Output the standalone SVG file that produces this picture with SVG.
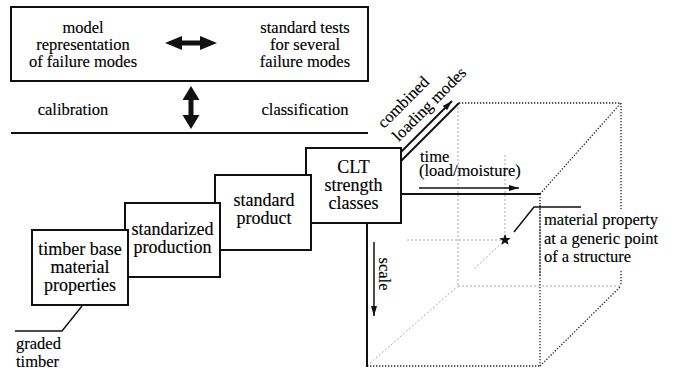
<svg xmlns="http://www.w3.org/2000/svg" width="687" height="372" viewBox="0 0 687 372" font-family="'Liberation Serif', 'DejaVu Serif', serif">
  <style>
    text { font-family: "Liberation Serif", "DejaVu Serif", serif; fill: #000; stroke: #000; stroke-width: 0.15; }
    .t16 { font-size: 16.5px; }
    .t18 { font-size: 18px; }
    .mid { text-anchor: middle; }
    .box { fill: #fff; stroke: #111; stroke-width: 2; }
    .solid { fill: none; stroke: #111; stroke-width: 2; }
    .thin { fill: none; stroke: #111; stroke-width: 1.5; }
    .dot { fill: none; stroke: #222; stroke-width: 1.3; stroke-dasharray: 1.3 1.7; }
    .faint { fill: none; stroke: #a8a8a8; stroke-width: 1; stroke-dasharray: 2 2; }
  </style>
  <defs>
    <marker id="head" markerUnits="userSpaceOnUse" markerWidth="10" markerHeight="6" refX="10" refY="3" orient="auto">
      <path d="M0,0 L10,3 L0,6 z" fill="#111"/>
    </marker>
  </defs>

  <rect width="687" height="372" fill="#fff"/>

  <!-- upper panel: failure modes and testing -->
  <g id="panel">
    <rect x="11" y="7" width="357" height="74" fill="none" stroke="#111" stroke-width="2"/>
    <line x1="11" y1="133" x2="368" y2="133" stroke="#111" stroke-width="2"/>
  </g>
  <g id="model">
    <text class="t16 mid" x="83" y="33">model</text>
    <text class="t16 mid" x="83" y="50">representation</text>
    <text class="t16 mid" x="83" y="67">of failure modes</text>
  </g>
  <g id="tests">
    <text class="t16 mid" x="305" y="33">standard tests</text>
    <text class="t16 mid" x="305" y="50">for several</text>
    <text class="t16 mid" x="305" y="67">failure modes</text>
  </g>
  <g id="calibration">
    <text class="t16 mid" x="73" y="115">calibration</text>
  </g>
  <g id="classification">
    <text class="t16 mid" x="305" y="115">classification</text>
  </g>

  <!-- staircase of product stages (back to front) -->
  <g id="clt">
    <rect class="box" x="306" y="148" width="95" height="75"/>
    <text class="t18 mid" x="353.5" y="173">CLT</text>
    <text class="t18 mid" x="353.5" y="191">strength</text>
    <text class="t18 mid" x="353.5" y="209">classes</text>
  </g>
  <g id="product">
    <rect class="box" x="215" y="175" width="96" height="75"/>
    <text class="t18 mid" x="264" y="206">standard</text>
    <text class="t18 mid" x="264" y="224">product</text>
  </g>
  <g id="production">
    <rect class="box" x="125" y="203" width="95" height="74"/>
    <text class="t18 mid" x="172.5" y="235">standarized</text>
    <text class="t18 mid" x="172.5" y="253">production</text>
  </g>
  <g id="timber">
    <rect class="box" x="32" y="230" width="96" height="75"/>
    <text class="t18 mid" x="80" y="255">timber base</text>
    <text class="t18 mid" x="80" y="273">material</text>
    <text class="t18 mid" x="80" y="291">properties</text>
  </g>
  <g id="graded">
    <text class="t16" x="16" y="349">graded</text>
    <text class="t16" x="16" y="367">timber</text>
  </g>

  <!-- property space: hidden edges and point construction -->
  <g id="space-hidden">
    <line class="faint" x1="458" y1="103" x2="458" y2="286"/>
    <line class="faint" x1="458" y1="286" x2="621" y2="286"/>
    <line class="faint" x1="367" y1="366" x2="458" y2="286"/>
    <line class="faint" x1="505" y1="155" x2="505" y2="240"/>
    <line class="faint" x1="407" y1="240" x2="505" y2="240"/>
    <line class="faint" x1="505" y1="240" x2="473" y2="270"/>
  </g>
  <!-- property space: visible edges -->
  <g id="space-edges">
    <line class="dot" x1="459" y1="103" x2="621" y2="103"/>
    <line class="dot" x1="540" y1="194" x2="621" y2="103"/>
    <line class="dot" x1="621" y1="103" x2="621" y2="286"/>
    <line class="dot" x1="540" y1="366" x2="621" y2="286"/>
    <line class="dot" x1="540" y1="194" x2="540" y2="366"/>
    <line class="dot" x1="367" y1="366" x2="540" y2="366"/>
  </g>

  <!-- axes and connectors -->
  <g id="connectors">
    <polygon points="165,43 182,36 182,40.5 200,40.5 200,36 217,43 200,50 200,45.5 182,45.5 182,50" fill="#111"/>
    <polygon points="191,86 199.5,100 193.5,100 193.5,115 199.5,115 191,129 182.5,115 188.5,115 188.5,100 182.5,100" fill="#111"/>
    <polyline class="thin" points="15,331 62,331 82,306"/>
    <line class="solid" x1="367" y1="223" x2="367" y2="367"/>
    <line class="solid" x1="401" y1="194" x2="540" y2="194"/>
    <line class="solid" x1="401" y1="161" x2="459" y2="103"/>
    <line class="solid" x1="401" y1="152" x2="452" y2="101" marker-end="url(#head)"/>
    <line class="thin" x1="419" y1="188" x2="519" y2="188" marker-end="url(#head)"/>
    <line class="thin" x1="374" y1="242" x2="374" y2="316" marker-end="url(#head)"/>
    <polyline class="thin" points="581,207 534,207 514,232"/>
  </g>

  <g id="axis-labels">
    <text class="t16 mid" transform="translate(407,106) rotate(-45)" font-size="17">combined</text>
    <text class="t16 mid" transform="translate(433,108) rotate(-45)">loading modes</text>
    <text class="t16" x="420" y="162">time</text>
    <text class="t16" x="419" y="176">(load/moisture)</text>
    <text class="t16 mid" transform="translate(379,274) rotate(90)">scale</text>
  </g>

  <g id="point">
    <polygon transform="translate(505,240)" points="0,-6 1.53,-2.1 5.71,-1.85 2.47,0.8 3.53,4.85 0,2.6 -3.53,4.85 -2.47,0.8 -5.71,-1.85 -1.53,-2.1" fill="#111"/>
    <rect x="543" y="209" width="129" height="62" fill="#fff"/>
    <line class="dot" x1="540" y1="205" x2="540" y2="275"/>
    <text class="t16" x="544" y="225">material property</text>
    <text class="t16" x="544" y="244">at a generic point</text>
    <text class="t16" x="544" y="262">of a structure</text>
  </g>
</svg>
